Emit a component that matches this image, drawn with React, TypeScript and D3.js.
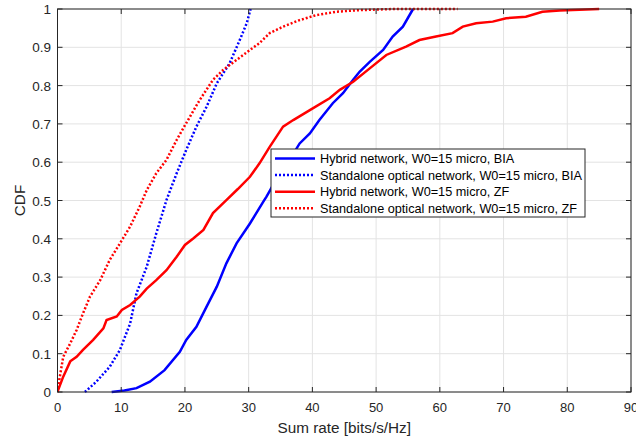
import React from "react";
import * as d3 from "d3";

const W = 636, H = 439;
const margin = { left: 57.5, right: 5, top: 9, bottom: 47 };

const xTicks = [0, 10, 20, 30, 40, 50, 60, 70, 80, 90];
const yTicks = [0, 0.1, 0.2, 0.3, 0.4, 0.5, 0.6, 0.7, 0.8, 0.9, 1];

const hybridBIA: [number, number][] = [
  [8.5, 0], [10.5, 0.004], [12.4, 0.01], [14.5, 0.027], [16.8, 0.057], [19.2, 0.105], [20.2, 0.136],
  [21.8, 0.17], [23.4, 0.223], [25, 0.275], [26.5, 0.336], [28.1, 0.388], [30.2, 0.44],
  [32.3, 0.497], [32.8, 0.51], [34.5, 0.56], [36.2, 0.6], [38, 0.649], [39.6, 0.675], [41.1, 0.71],
  [43.2, 0.754], [44.8, 0.78], [46.4, 0.815], [47.4, 0.836], [49, 0.862], [51.1, 0.893],
  [52.6, 0.928], [54.2, 0.954], [55.8, 1.0],
];
const standaloneBIA: [number, number][] = [
  [4.3, 0], [6.1, 0.027], [8.2, 0.066], [9.8, 0.11], [11.4, 0.179], [12.4, 0.258], [14, 0.327],
  [15.5, 0.414], [17.1, 0.501], [18.7, 0.571], [20.2, 0.632], [21.8, 0.693], [23.4, 0.745],
  [25, 0.806], [27, 0.858], [28.6, 0.919], [29.7, 0.963], [30.3, 1.0],
];
const hybridZF: [number, number][] = [
  [0, 0], [0.1, 0.005], [0.9, 0.04], [2, 0.08], [3, 0.092], [4, 0.11], [5.6, 0.136], [7.2, 0.166],
  [7.7, 0.188], [9.3, 0.197], [10.1, 0.214], [11.4, 0.227], [12.9, 0.249], [14, 0.27],
  [15.5, 0.292], [17.1, 0.318], [18.7, 0.353], [20, 0.384], [21.3, 0.401], [22.9, 0.423],
  [24.4, 0.467], [26.5, 0.501], [28.3, 0.53], [30.2, 0.562], [31.7, 0.597], [33.3, 0.64],
  [35.4, 0.693], [37, 0.71], [39.6, 0.736], [42.7, 0.767], [44.3, 0.789], [46.4, 0.81],
  [49, 0.845], [51.6, 0.88], [54.7, 0.902], [56.8, 0.919], [59.4, 0.928], [62, 0.937],
  [63.6, 0.954], [65.7, 0.963], [68.3, 0.967], [70.4, 0.976], [73.5, 0.98], [76.1, 0.993],
  [78.8, 0.996], [85, 1.0],
];
const standaloneZF: [number, number][] = [
  [0, 0], [0.1, 0.014], [0.9, 0.092], [2, 0.127], [3, 0.162], [4, 0.205], [5.1, 0.249],
  [6.7, 0.292], [8.2, 0.345], [9.8, 0.388], [11.4, 0.432], [12.9, 0.484], [14, 0.527],
  [15.5, 0.571], [17.1, 0.606], [18.7, 0.658], [20.2, 0.702], [22.3, 0.762], [24.4, 0.815],
  [26, 0.841], [28.1, 0.867], [30.2, 0.893], [31.7, 0.911], [33.3, 0.937], [35.4, 0.954],
  [38, 0.971], [40.6, 0.984], [43.8, 0.993], [47.4, 0.997], [52.6, 1.0], [62.8, 1.0],
];

const seriesNames = [
  "Hybrid network, W0=15 micro, BIA",
  "Standalone optical network, W0=15 micro, BIA",
  "Hybrid network, W0=15 micro, ZF",
  "Standalone optical network, W0=15 micro, ZF",
];
const seriesColors = ["#0000ff", "#0000ff", "#ff0000", "#ff0000"];
const seriesDashed = [false, true, false, true];
const seriesData = [hybridBIA, standaloneBIA, hybridZF, standaloneZF];

const font = "'Liberation Sans', Arial, Helvetica, sans-serif";

export default function App() {
  const x = d3.scaleLinear().domain([0, 90]).range([margin.left, W - margin.right]);
  const y = d3.scaleLinear().domain([0, 1]).range([H - margin.bottom, margin.top]);
  const line = d3.line<[number, number]>().x((d) => x(d[0])).y((d) => y(d[1]));
  const x0 = x(0), x1 = x(90), y0 = y(0), y1 = y(1);
  const axisColor = "#262626";
  const lg = { x: 271, y: 149, w: 314, h: 68 };
  const rowY = [158.5, 175, 191.7, 208.3];

  return (
    <svg width={W} height={H} style={{ position: "absolute", left: 0, top: 0, background: "#fff" }}>
      <rect x={0} y={0} width={W} height={H} fill="#fff" />
      {xTicks.map((t) => (
        <line key={"gx" + t} x1={x(t)} x2={x(t)} y1={y0} y2={y1} stroke="#e3e3e3" strokeWidth={1} />
      ))}
      {yTicks.map((t) => (
        <line key={"gy" + t} x1={x0} x2={x1} y1={y(t)} y2={y(t)} stroke="#e3e3e3" strokeWidth={1} />
      ))}
      <defs>
        <clipPath id="clip">
          <rect x={x0} y={y1 - 2} width={x1 - x0} height={y0 - y1 + 4} />
        </clipPath>
      </defs>
      <g clipPath="url(#clip)">
        {seriesData.map((d, i) => (
          <path
            key={i}
            d={line(d) || ""}
            fill="none"
            stroke={seriesColors[i]}
            strokeWidth={2.5}
            strokeDasharray={seriesDashed[i] ? "2 2" : undefined}
          />
        ))}
      </g>
      <rect x={x0} y={y1} width={x1 - x0} height={y0 - y1} fill="none" stroke={axisColor} strokeWidth={1} />
      {xTicks.map((t) => (
        <g key={"tx" + t}>
          <line x1={x(t)} x2={x(t)} y1={y0} y2={y0 - 5} stroke={axisColor} />
          <line x1={x(t)} x2={x(t)} y1={y1} y2={y1 + 5} stroke={axisColor} />
          <text x={x(t)} y={y0 + 19.5} textAnchor="middle" fontSize={13} fontFamily={font} fill={axisColor}>
            {t}
          </text>
        </g>
      ))}
      {yTicks.map((t) => (
        <g key={"ty" + t}>
          <line x1={x0} x2={x0 + 5} y1={y(t)} y2={y(t)} stroke={axisColor} />
          <line x1={x1} x2={x1 - 5} y1={y(t)} y2={y(t)} stroke={axisColor} />
          <text x={x0 - 6.5} y={y(t) + 5} textAnchor="end" fontSize={13.5} fontFamily={font} fill={axisColor}>
            {t === 0 || t === 1 ? String(t) : t.toFixed(1)}
          </text>
        </g>
      ))}
      <text x={(x0 + x1) / 2} y={432.5} textAnchor="middle" fontSize={15.3} fontFamily={font} fill={axisColor}>
        Sum rate [bits/s/Hz]
      </text>
      <text
        transform={`translate(25,${(y0 + y1) / 2}) rotate(-90)`}
        textAnchor="middle"
        fontSize={15.3}
        fontFamily={font}
        fill={axisColor}
      >
        CDF
      </text>
      <rect x={lg.x} y={lg.y} width={lg.w} height={lg.h} fill="#fff" stroke={axisColor} strokeWidth={1} />
      {seriesNames.map((n, i) => (
        <g key={"lg" + i}>
          <line
            x1={275}
            x2={315}
            y1={rowY[i]}
            y2={rowY[i]}
            stroke={seriesColors[i]}
            strokeWidth={2.5}
            strokeDasharray={seriesDashed[i] ? "2 2" : undefined}
          />
          <text x={320} y={rowY[i] + 4.5} fontSize={12.7} fontFamily={font} fill="#000">
            {n}
          </text>
        </g>
      ))}
    </svg>
  );
}
